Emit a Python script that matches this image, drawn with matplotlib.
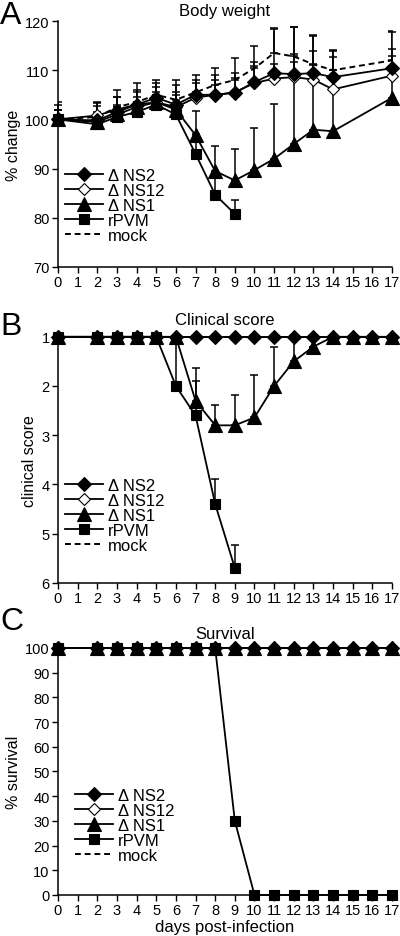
import numpy as np
import matplotlib.pyplot as plt

plt.rcParams['font.family'] = ['Liberation Sans', 'DejaVu Sans']

# days sampled in each panel
days_a = [0, 2, 3, 4, 5, 6, 7, 8, 9, 10, 11, 12, 13, 14, 17]
days_b = [0, 2, 3, 4, 5, 6, 7, 8, 9, 10, 11, 12, 13, 14, 15, 16, 17]

# A: body weight (% change), mean and upper error
ns2_w = [100, 99.8, 101.5, 103, 104.4, 103, 105, 105, 105.4, 107.6, 109.4, 109.2, 109.4, 108.6, 110.4]
ns2_we = [3, 3, 3, 3, 3, 4, 3, 4, 4, 4, 9, 4, 4.5, 4, 4]
ns12_w = [100, 100.8, 102, 103, 103.5, 102.5, 104.4, 105, 105.5, 107.4, 108.3, 108.6, 108.1, 106.1, 108.9]
ns12_we = [2, 2.5, 2.5, 2.5, 3, 3, 3, 3, 3, 3.5, 3, 3, 3, 4, 4]
ns1_w = [100, 99.5, 101, 102.5, 103.5, 102, 96.8, 89.5, 87.6, 89.7, 92, 95, 97.9, 97.6, 104.4]
ns1_we = [2, 2, 2, 2, 2, 3, 5, 5, 6.4, 8.6, 11.2, 23.8, 19, 16.5, 13.3]
rpvm_days_a = [0, 2, 3, 4, 5, 6, 7, 8, 9]
rpvm_w = [100, 99, 100.5, 101.5, 103, 101, 93, 84.7, 80.8]
rpvm_we = [2, 2, 2, 2, 2, 2, 4, 3.4, 2.9]
mock_w = [100, 100.5, 102.5, 103.5, 105, 104, 105.5, 107, 108, 110.4, 113.5, 112.8, 111.2, 110, 112]
mock_we = [3.5, 3, 3.5, 4, 3, 4, 3.5, 3.5, 4.5, 4.5, 5, 6, 6, 4, 6]

# B: clinical score (1 = healthy)
ns2_s = [1] * 17
ns12_s = [1] * 17
ns1_s = [1, 1, 1, 1, 1, 1, 2.3, 2.8, 2.8, 2.64, 2.0, 1.5, 1.2, 1, 1, 1, 1]
ns1_se = [0, 0, 0, 0, 0, 0, 0.4, 0.42, 0.62, 0.87, 0.8, 0.5, 0, 0, 0, 0, 0]
rpvm_days_b = [0, 2, 3, 4, 5, 6, 7, 8, 9]
rpvm_s = [1, 1, 1, 1, 1, 2.0, 2.6, 4.4, 5.7]
rpvm_se = [0, 0, 0, 0, 0, 1.0, 0.96, 0.51, 0.46]

# C: survival (%)
ns2_v = [100] * 17
ns12_v = [100] * 17
ns1_v = [100] * 17
rpvm_v = [100, 100, 100, 100, 100, 100, 100, 100, 30, 0, 0, 0, 0, 0, 0, 0, 0]

labels = ['\u0394 NS2', '\u0394 NS12', '\u0394 NS1', 'rPVM', 'mock']
styles = [dict(marker='D', ms=7.5, mfc='black', zorder=5),
          dict(marker='D', ms=6, mfc='white', zorder=4),
          dict(marker='^', ms=10, mfc='black', zorder=6),
          dict(marker='s', ms=6.5, mfc='black', zorder=3)]

fig = plt.figure(figsize=(4, 9.37), dpi=100)
ax_a = fig.add_axes([0.145, 0.714, 0.835, 0.2625])
ax_b = fig.add_axes([0.145, 0.377, 0.835, 0.2625])
ax_c = fig.add_axes([0.145, 0.0438, 0.835, 0.2636])


def errs(vals, up=True):
    z = np.zeros(len(vals))
    return [z, vals] if up else [vals, z]


def draw(ax, series, mock=None, up=True):
    for (x, y, e), st, lab in zip(series, styles, labels):
        ax.plot(x, y, color='black', lw=1.3, mec='black', mew=0.8,
                label=lab, clip_on=False, **st)
        if e is not None:
            ax.errorbar(x, y, yerr=errs(e, up), fmt='none', ecolor='black',
                        elinewidth=1.1, capsize=3, capthick=1.1, zorder=2, clip_on=False)
    if mock is not None:
        x, y, e = mock
        ax.plot(x, y, color='black', lw=1.4, ls=(0, (3, 2)), label='mock', zorder=2)
        ax.errorbar(x, y, yerr=errs(e, up), fmt='none', ecolor='black',
                    elinewidth=1.1, capsize=3, capthick=1.1, zorder=2)
    else:
        ax.plot([], [], color='black', lw=1.4, ls=(0, (3, 2)), label='mock')


draw(ax_a, [(days_a, ns2_w, ns2_we), (days_a, ns12_w, ns12_we),
            (days_a, ns1_w, ns1_we), (rpvm_days_a, rpvm_w, rpvm_we)],
     mock=(days_a, mock_w, mock_we))
draw(ax_b, [(days_b, ns2_s, None), (days_b, ns12_s, None),
            (days_b, ns1_s, ns1_se), (rpvm_days_b, rpvm_s, rpvm_se)], up=False)
draw(ax_c, [(days_b, ns2_v, None), (days_b, ns12_v, None),
            (days_b, ns1_v, None), (days_b, rpvm_v, None)])

ax_a.set_ylim(70, 120)
ax_a.set_yticks(range(70, 121, 10))
ax_b.set_ylim(6, 1)
ax_b.set_yticks(range(1, 7))
ax_c.set_ylim(0, 100)
ax_c.set_yticks(range(0, 101, 10))

titles = ['Body weight', 'Clinical score', 'Survival']
title_pad = [4, 9, 7]
ylabels = ['% change', 'clinical score', '% survival']
legend_y = [0.43, 0.455, 0.46]
legend_x = [0.0, 0.0, 0.03]
for ax, t, tp, yl, ly, lx in zip([ax_a, ax_b, ax_c], titles, title_pad, ylabels, legend_y, legend_x):
    ax.set_xlim(0, 17)
    ax.set_xticks(range(0, 18))
    ax.set_title(t, fontsize=12, pad=tp)
    ax.set_ylabel(yl, fontsize=11.5, labelpad=3)
    for s in ['top', 'right']:
        ax.spines[s].set_visible(False)
    for s in ['left', 'bottom']:
        ax.spines[s].set_linewidth(1.1)
    ax.tick_params(labelsize=10.5, length=4, width=1.0, direction='out', pad=2)
    ax.legend(loc='upper left', bbox_to_anchor=(lx, ly), frameon=False,
              fontsize=12, handlelength=2.3, handletextpad=0.3,
              labelspacing=0.0, borderaxespad=0)

ax_c.set_xlabel('days post-infection', fontsize=12, labelpad=1)

fig.text(0.0, 0.983, 'A', fontsize=23, va='center')
fig.text(0.0, 0.651, 'B', fontsize=23, va='center')
fig.text(0.0, 0.336, 'C', fontsize=23, va='center')

fig.savefig('out.png', dpi=100)
